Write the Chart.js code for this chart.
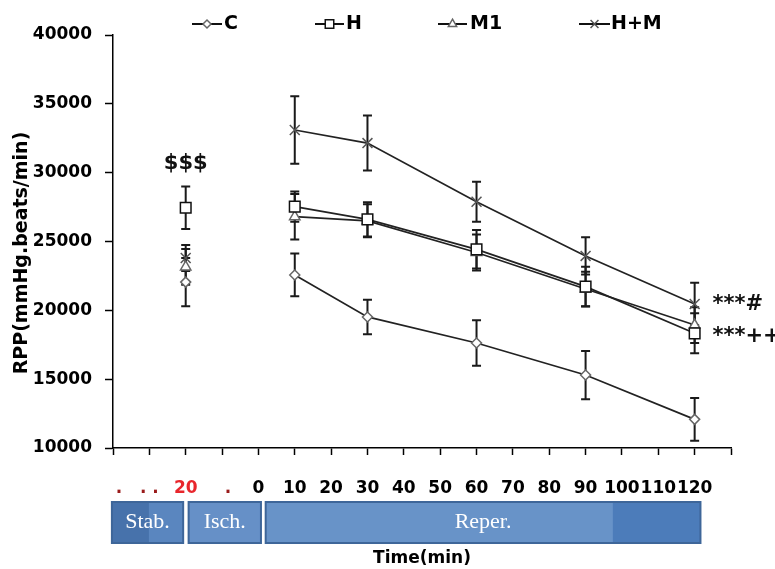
<!DOCTYPE html>
<html><head><meta charset="utf-8">
<script src="https://cdn.jsdelivr.net/npm/chart.js@4.4.0/dist/chart.umd.min.js"></script>
<style>html,body{margin:0;padding:0;background:#fff;}canvas{display:block;}</style>
</head><body>
<canvas id="c" width="775" height="569"></canvas>
<script>
// ---- data ----
const times = [-20, 10, 30, 60, 90, 120];
const seriesLabels = ['C', 'H', 'M1', 'H+M'];
const rppC  = [22050, 22570, 19520, 17630, 15300, 12080];
const rppH  = [27450, 27530, 26610, 24430, 21720, 18330];
const rppM1 = [23150, 26800, 26500, 24200, 21550, 18930];
const rppHM = [23800, 33100, 32150, 27890, 23950, 20460];
const errC  = [1750, 1550, 1250, 1650, 1750, 1550];
const errH  = [1550, 1100, 1250, 1400, 1450, 1450];
const errM1 = [1300, 1650, 1200, 1300, 1250, 1300];
const errHM = [950, 2450, 2000, 1450, 1350, 1550];
const yTickValues = [10000, 15000, 20000, 25000, 30000, 35000, 40000];
const xTickValues = [-40, -30, -20, -10, 0, 10, 20, 30, 40, 50, 60, 70, 80, 90, 100, 110, 120, 130];
const xTickLabels = ['  .', '. .', '20', '  .', '0', '10', '20', '30', '40', '50', '60', '70', '80', '90', '100', '110', '120', ''];
const phaseNames = ['Stab.', 'Isch.', 'Reper.'];
const phaseStart = [-40.3, -19.2, 2.0];
const phaseEnd   = [-20.7, 0.7, 121.6];
const sigTexts = ['$$$', '***#', '***++'];
const sigX = [-20, 124.9, 124.9];
const sigY = [30650, 20390, 18060];

// ---- styles ----
const seriesValues = [rppC, rppH, rppM1, rppHM];
const seriesErrors = [errC, errH, errM1, errHM];
const markerStyle = [
  {pointStyle: 'rectRot', radius: 5, color: '#666'},
  {pointStyle: 'rect', radius: 7.5, color: '#111'},
  {pointStyle: 'triangle', radius: 6, color: '#666'},
  {pointStyle: 'crossRot', radius: 7, color: '#555'}
];
const BOLD = "'DejaVu Sans', sans-serif";

const datasets = seriesValues.map((vals, i) => ({
  label: seriesLabels[i],
  data: times.map((t, j) => ({x: t, y: vals[j]})),
  borderColor: '#222',
  borderWidth: 1.7,
  backgroundColor: '#fff',
  pointStyle: markerStyle[i].pointStyle,
  pointRadius: markerStyle[i].radius,
  pointBorderColor: markerStyle[i].color,
  pointBackgroundColor: '#fff',
  pointBorderWidth: 1.5,
  tension: 0,
  segment: { borderColor: ctx => ctx.p0DataIndex === 0 ? 'rgba(0,0,0,0)' : '#222' }
}));

function drawMarker(ctx, style, r, x, y) {
  ctx.beginPath();
  if (style === 'rectRot') {
    ctx.moveTo(x - r, y); ctx.lineTo(x, y - r); ctx.lineTo(x + r, y); ctx.lineTo(x, y + r); ctx.closePath();
    ctx.fill(); ctx.stroke();
  } else if (style === 'rect') {
    const s = r * Math.SQRT1_2;
    ctx.rect(x - s, y - s, 2 * s, 2 * s); ctx.fill(); ctx.stroke();
  } else if (style === 'triangle') {
    const w = r * Math.sqrt(3) / 2;
    ctx.moveTo(x, y - r); ctx.lineTo(x + w, y + r / 2); ctx.lineTo(x - w, y + r / 2); ctx.closePath();
    ctx.fill(); ctx.stroke();
  } else {
    const d = r * Math.SQRT1_2;
    ctx.moveTo(x - d, y - d); ctx.lineTo(x + d, y + d);
    ctx.moveTo(x + d, y - d); ctx.lineTo(x - d, y + d);
    ctx.stroke();
  }
}

const extras = {
  id: 'extras',
  beforeDatasetsDraw(chart) {
    const ctx = chart.ctx, ys = chart.scales.y;
    ctx.save();
    seriesValues.forEach((vals, i) => {
      const meta = chart.getDatasetMeta(i);
      meta.data.forEach((pt, j) => {
        const top = ys.getPixelForValue(vals[j] + seriesErrors[i][j]);
        const bot = ys.getPixelForValue(vals[j] - seriesErrors[i][j]);
        ctx.strokeStyle = '#1a1a1a';
        ctx.lineWidth = 2;
        ctx.beginPath();
        ctx.moveTo(pt.x, top); ctx.lineTo(pt.x, bot);
        ctx.moveTo(pt.x - 4.5, top); ctx.lineTo(pt.x + 4.5, top);
        ctx.moveTo(pt.x - 4.5, bot); ctx.lineTo(pt.x + 4.5, bot);
        ctx.stroke();
      });
    });
    ctx.restore();
  },
  afterDraw(chart) {
    const ctx = chart.ctx, xs = chart.scales.x, ys = chart.scales.y;
    ctx.save();
    // significance marks
    ctx.fillStyle = '#111';
    ctx.font = 'bold 21px ' + BOLD;
    ctx.textBaseline = 'middle';
    sigTexts.forEach((t, i) => {
      ctx.textAlign = i === 0 ? 'center' : 'left';
      ctx.fillText(t, xs.getPixelForValue(sigX[i]), ys.getPixelForValue(sigY[i]));
    });
    // y-axis title
    ctx.save();
    ctx.translate(22, 253);
    ctx.rotate(-Math.PI / 2);
    ctx.textAlign = 'center';
    ctx.textBaseline = 'middle';
    ctx.font = 'bold 19px ' + BOLD;
    ctx.fillStyle = '#000';
    ctx.fillText('RPP(mmHg.beats/min)', 0, 0);
    ctx.restore();
    // legend
    const leg = [{x1: 192, x2: 222, tx: 224}, {x1: 315, x2: 344, tx: 346}, {x1: 438, x2: 467, tx: 470}, {x1: 579, x2: 610, tx: 611}];
    const ly = 24;
    leg.forEach((L, i) => {
      ctx.strokeStyle = '#111'; ctx.lineWidth = 2;
      ctx.beginPath(); ctx.moveTo(L.x1, ly); ctx.lineTo(L.x2, ly); ctx.stroke();
      ctx.fillStyle = '#fff'; ctx.strokeStyle = markerStyle[i].color; ctx.lineWidth = 1.5;
      drawMarker(ctx, markerStyle[i].pointStyle, markerStyle[i].radius * 0.8, (L.x1 + L.x2) / 2, ly);
      ctx.fillStyle = '#000';
      ctx.font = 'bold 19px ' + BOLD;
      ctx.textAlign = 'left'; ctx.textBaseline = 'middle';
      ctx.fillText(seriesLabels[i], L.tx, ly);
    });
    // phase boxes
    const by = 502, bh = 41;
    const fills = ['#5a86bf', '#6690c7', '#6893c8'];
    phaseNames.forEach((name, i) => {
      const x0 = xs.getPixelForValue(phaseStart[i]);
      const x1 = xs.getPixelForValue(phaseEnd[i]);
      ctx.fillStyle = fills[i];
      ctx.fillRect(x0, by, x1 - x0, bh);
      if (i === 0) { ctx.fillStyle = '#4772ab'; ctx.fillRect(x0, by, 37, bh); }
      if (i === 2) { const xd = xs.getPixelForValue(97.5); ctx.fillStyle = '#4c7cba'; ctx.fillRect(xd, by, x1 - xd, bh); }
      ctx.strokeStyle = '#3e6699'; ctx.lineWidth = 2;
      ctx.strokeRect(x0, by, x1 - x0, bh);
      ctx.fillStyle = '#fff';
      ctx.font = '22px "Liberation Serif", serif';
      ctx.textAlign = 'center'; ctx.textBaseline = 'middle';
      ctx.fillText(name, (x0 + x1) / 2, by + bh / 2);
    });
    ctx.restore();
  }
};

const tickColor = ctx => {
  const v = ctx.tick ? ctx.tick.value : 0;
  if (v === -20) return '#e8262c';
  if (v < 0) return '#9a1b1b';
  return '#000';
};

new Chart(document.getElementById('c'), {
  type: 'line',
  data: { datasets },
  options: {
    responsive: false,
    animation: false,
    layout: { padding: { top: 35, right: 44, left: 0, bottom: 0 } },
    plugins: { legend: { display: false }, tooltip: { enabled: false } },
    scales: {
      x: {
        type: 'linear', min: -40, max: 130,
        afterBuildTicks: s => { s.ticks = xTickValues.map(v => ({value: v})); },
        afterFit: s => { s.height = 121; },
        ticks: {
          autoSkip: false, maxRotation: 0, minRotation: 0, padding: 23,
          font: { family: BOLD, size: 17, weight: 'bold' },
          color: tickColor,
          callback: v => { const k = xTickValues.indexOf(v); return k >= 0 ? xTickLabels[k] : ''; }
        },
        grid: { drawOnChartArea: false, drawTicks: true, tickLength: 7, tickColor: '#000', tickWidth: 1.5 },
        border: { display: true, color: '#000', width: 1.5 },
        title: { display: true, text: 'Time(min)', color: '#000', font: { family: BOLD, size: 17, weight: 'bold' }, padding: { top: 0, bottom: 0 } }
      },
      y: {
        min: 10000, max: 40000,
        afterBuildTicks: s => { s.ticks = yTickValues.map(v => ({value: v})); },
        afterFit: s => { s.width = 113; },
        ticks: { padding: 13, color: '#000', font: { family: BOLD, size: 17, weight: 'bold' }, callback: v => String(v) },
        grid: { drawOnChartArea: false, drawTicks: true, tickLength: 8, tickColor: '#000', tickWidth: 1.5 },
        border: { display: true, color: '#000', width: 1.5 }
      }
    }
  },
  plugins: [extras]
});
</script>
</body></html>
